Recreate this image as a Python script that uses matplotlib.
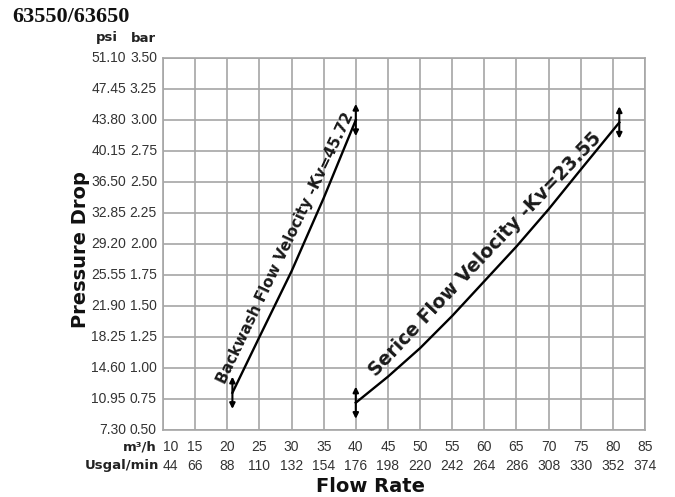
import matplotlib
matplotlib.use("Agg")
import matplotlib.pyplot as plt

# axis values
bar_ticks = [0.50, 0.75, 1.00, 1.25, 1.50, 1.75, 2.00, 2.25, 2.50, 2.75, 3.00, 3.25, 3.50]
psi_labels = ["7.30", "10.95", "14.60", "18.25", "21.90", "25.55", "29.20", "32.85",
              "36.50", "40.15", "43.80", "47.45", "51.10"]
flow_m3h = [10, 15, 20, 25, 30, 35, 40, 45, 50, 55, 60, 65, 70, 75, 80, 85]
flow_gpm = [44, 66, 88, 110, 132, 154, 176, 198, 220, 242, 264, 286, 308, 330, 352, 374]

# curves (m3/h, bar)
backwash_q = [20.8, 25, 30, 35, 40]
backwash_dp = [0.80, 1.25, 1.78, 2.37, 3.00]
service_q = [40, 45, 50, 55, 60, 65, 70, 75, 81]
service_dp = [0.72, 0.93, 1.16, 1.42, 1.70, 1.98, 2.28, 2.60, 2.98]

W, H = 675, 497
fig = plt.figure(figsize=(W / 100, H / 100), dpi=100)
ax = fig.add_axes([163 / W, 1 - 430 / H, (645 - 163) / W, (430 - 58) / H])

ax.set_xlim(10, 85)
ax.set_ylim(0.5, 3.5)
ax.set_xticks(flow_m3h)
ax.set_yticks(bar_ticks)
ax.grid(True, color="#a6a6a6", lw=1.2)
for s in ax.spines.values():
    s.set_color("#a6a6a6")
    s.set_linewidth(1.2)
ax.tick_params(length=0, labelbottom=False, labelleft=False)

# curves
ax.plot(backwash_q, backwash_dp, color="black", lw=1.7, zorder=3)
ax.plot(service_q, service_dp, color="black", lw=1.7, zorder=3)

# double arrows at the ends
for q, dp in [(backwash_q[0], backwash_dp[0]), (backwash_q[-1], backwash_dp[-1]),
              (service_q[0], service_dp[0]), (service_q[-1], service_dp[-1])]:
    ax.annotate("", xy=(q, dp + 0.13), xytext=(q, dp - 0.13),
                arrowprops=dict(arrowstyle="<|-|>", color="black", lw=1.5,
                                mutation_scale=8, shrinkA=0, shrinkB=0), zorder=4)

# curve labels
ax.text(29.0, 1.97, "Backwash Flow Velocity -Kv=45.72", rotation=64.5,
        rotation_mode="anchor", ha="center", va="center", fontsize=11,
        fontweight="bold", color="#1a1a1a", family="DejaVu Sans")
ax.text(60.2, 1.92, "Serice Flow Velocity -Kv=23.55", rotation=46.5,
        rotation_mode="anchor", ha="center", va="center", fontsize=13.5,
        fontweight="bold", color="#1a1a1a", family="DejaVu Sans")

# y tick labels: psi and bar columns
ytr = ax.get_yaxis_transform()
for b, p in zip(bar_ticks, psi_labels):
    ax.text(-6 / 482, b, f"{b:.2f}", transform=ytr, ha="right", va="center",
            fontsize=10, color="#333333", family="Liberation Sans")
    ax.text(-37 / 482, b, p, transform=ytr, ha="right", va="center",
            fontsize=10, color="#333333", family="Liberation Sans")
fig.text(107 / W, 1 - 38 / H, "psi", ha="center", va="center", fontsize=9.5,
         fontweight="bold", color="#222222")
fig.text(143 / W, 1 - 38 / H, "bar", ha="center", va="center", fontsize=9.5,
         fontweight="bold", color="#222222")

# x tick labels: two rows
xtr = ax.get_xaxis_transform()
row1 = -(447 - 430) / 372
row2 = -(466 - 430) / 372
for i, (q, g) in enumerate(zip(flow_m3h, flow_gpm)):
    ha = "left" if i == 0 else "center"
    ax.text(q, row1, str(q), transform=xtr, ha=ha, va="center", fontsize=10,
            color="#333333", family="Liberation Sans")
    ax.text(q, row2, str(g), transform=xtr, ha=ha, va="center", fontsize=10,
            color="#333333", family="Liberation Sans")
fig.text(157 / W, 1 - 447 / H, "m³/h", ha="right", va="center", fontsize=9.5,
         fontweight="bold", color="#222222")
fig.text(159 / W, 1 - 466 / H, "Usgal/min", ha="right", va="center", fontsize=9.5,
         fontweight="bold", color="#222222")

# axis titles
fig.text(370 / W, 1 - 487 / H, "Flow Rate", ha="center", va="center",
         fontsize=14, fontweight="bold", color="#111111")
fig.text(80 / W, 1 - 250 / H, "Pressure Drop", ha="center", va="center",
         rotation=90, fontsize=14, fontweight="bold", color="#111111")

fig.text(12 / W, 1 - 17 / H, "63550/63650", ha="left", va="center", fontsize=16,
         fontweight="bold", family="Liberation Serif", color="#111111")

fig.savefig("out.png", dpi=100)
